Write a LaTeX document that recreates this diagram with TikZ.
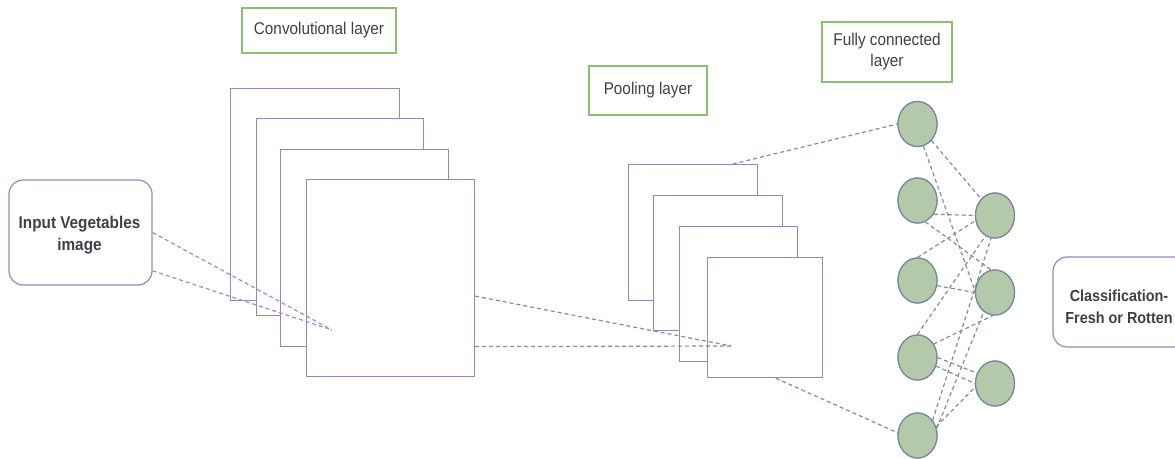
\documentclass[tikz,border=0pt]{standalone}
\usepackage{fontspec}
\setmainfont{Liberation Sans}[FakeStretch=0.9]
\usetikzlibrary{shapes.geometric,calc}
\definecolor{purp}{HTML}{A084B5}
\definecolor{grn}{HTML}{8DBE74}
\definecolor{nfill}{HTML}{B4C9A9}
\definecolor{nline}{HTML}{76889F}
\definecolor{dashb}{HTML}{7F8CA6}
\definecolor{dashp}{HTML}{A889C2}
\definecolor{txt}{HTML}{3F3F4A}
\tikzset{
  lab/.style={draw=grn, line width=1.2pt, text=txt, font=\fontsize{17}{21}\selectfont, align=center, inner sep=0pt},
  termbox/.style={draw=purp, line width=1.2pt, rounded corners=14pt, inner sep=0pt},
  termtext/.style={text=txt, font=\bfseries\fontsize{17}{22}\selectfont, align=center, inner sep=0pt},
  layerbox/.style={draw=purp, fill=white, line width=1.2pt, inner sep=0pt, anchor=north west},
  neuron/.style={ellipse, draw=nline, fill=nfill, line width=1.2pt, inner sep=0pt, minimum width=39pt, minimum height=45pt},
  dashlink/.style={draw=dashb, line width=1.2pt, dash pattern=on 4pt off 3pt},
  dashlinkp/.style={draw=dashp, line width=1.2pt, dash pattern=on 4pt off 3pt}
}
\begin{document}
\begin{tikzpicture}[x=1pt,y=-1pt]
\useasboundingbox (0,0) rectangle (1175,458);
% labels
\node[lab, minimum width=154pt, minimum height=45pt] (convlab) at (319,30.5) {Convolutional layer};
\node[lab, minimum width=118pt, minimum height=49pt] (poollab) at (648,90.5) {Pooling layer};
\node[lab, minimum width=130pt, minimum height=60pt] (fclab) at (887,52) {Fully connected\\layer};
% terminals
\node[termbox, minimum width=143pt, minimum height=105pt] (input) at (80.5,232.5) {};
\node[termtext] (inputtext) at (79.5,235) {Input Vegetables\\image};
\node[termbox, minimum width=137pt, minimum height=90pt] (cls) at (1121.5,302) {};
\node[termtext, font=\bfseries\fontsize{16}{22}\selectfont] (clstext) at (1119,307) {Classification-\\Fresh or Rotten};
% conv layers
\node[layerbox, minimum width=169pt, minimum height=212pt] (c1) at (230,88) {};
\node[layerbox, minimum width=167pt, minimum height=197pt] (c2) at (256,118) {};
\node[layerbox, minimum width=168pt, minimum height=197pt] (c3) at (280,149) {};
\node[layerbox, minimum width=168pt, minimum height=197pt] (c4) at (306,179) {};
% pooling layers
\node[layerbox, minimum width=129pt, minimum height=136pt] (p1) at (628,164) {};
\node[layerbox, minimum width=129pt, minimum height=135pt] (p2) at (653,195) {};
\node[layerbox, minimum width=118pt, minimum height=135pt] (p3) at (679,226) {};
\node[layerbox, minimum width=115pt, minimum height=120pt] (p4) at (707,257) {};
% free ends
\coordinate (convpt) at (332,330);
\coordinate (poolpt) at (731,346);
% input to conv
\draw[dashlinkp] (input.0) -- (convpt);
\draw[dashlinkp] (input.-28) -- (convpt);
% conv to pool
\draw[dashlink] (c4.-12) -- (poolpt);
\draw[dashlink] (c4.-39) -- (poolpt);
% neurons
\node[neuron] (h1) at (917.5,124) {};
\node[neuron] (h2) at (917.5,200.5) {};
\node[neuron] (h3) at (917.5,280.5) {};
\node[neuron] (h4) at (917.5,357.5) {};
\node[neuron] (h5) at (917.5,435.5) {};
\node[neuron] (o1) at (995,215.5) {};
\node[neuron] (o2) at (995,292.5) {};
\node[neuron] (o3) at (995,383.5) {};
% pool to fc
\draw[dashlink] (p1.60) -- (h1.west);
\draw[dashlink] (p4.-80) -- (h5.172);
% fc links
\draw[dashlink] (h1.-50) -- (o1.130);
\draw[dashlink] (h1.-75) -- (o2.175);
\draw[dashlink] (h2.-40) -- (o1.180);
\draw[dashlink] (h2.-70) -- (o2.100);
\draw[dashlink] (h3.north) -- (o1.195);
\draw[dashlink] (h3.-15) -- (o2.180);
\draw[dashlink] (h4.north) -- (o1.-115);
\draw[dashlink] (h4.40) -- (o2.-95);
\draw[dashlink] (h4.0) -- (o3.150);
\draw[dashlink] (h4.-25) -- (o3.180);
\draw[dashlink] (h5.45) -- (o1.-100);
\draw[dashlink] (h5.20) -- (o2.-120);
\draw[dashlink] (h5.25) -- (o3.190);
% redraw neurons on top
\foreach \n in {h1,h2,h3,h4,h5,o1,o2,o3}{
  \path[draw=nline, fill=nfill, line width=1.2pt] (\n.center) ellipse [x radius=19.5pt, y radius=22.5pt];
}
\end{tikzpicture}
\end{document}
